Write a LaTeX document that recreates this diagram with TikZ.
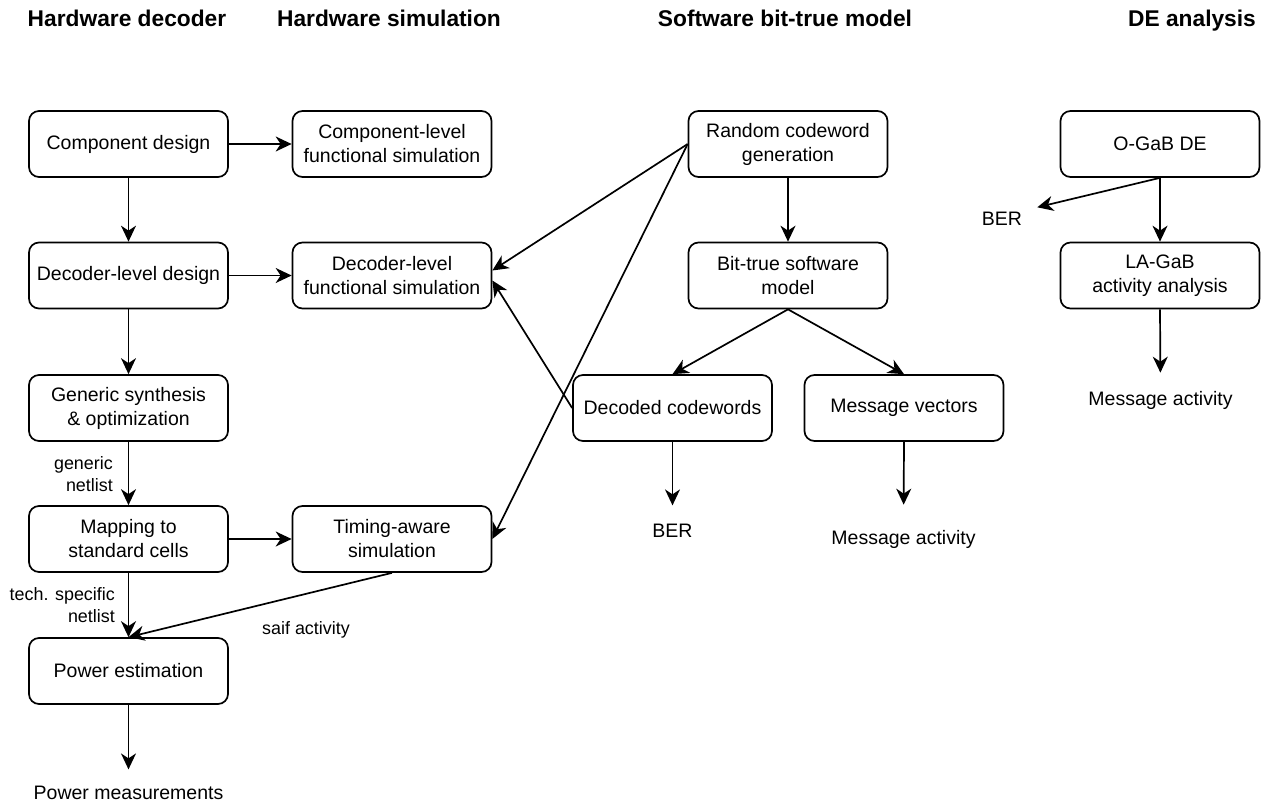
\documentclass[tikz,border=0pt]{standalone}
\usepackage{fontspec}
\setmainfont{Liberation Sans}
\usetikzlibrary{arrows.meta,calc}
\begin{document}
\begin{tikzpicture}[x=1pt,y=-1pt,
  box/.style={draw, line width=1.7pt, rounded corners=10pt, minimum width=199pt,
    minimum height=66pt, align=center, inner sep=2pt, font=\fontsize{19.5}{24}\selectfont},
  txt/.style={inner sep=0pt, align=center, anchor=base, font=\fontsize{19.5}{24}\selectfont},
  lbl/.style={inner sep=0pt, align=right, font=\fontsize{17.9}{22}\selectfont},
  head/.style={inner sep=0pt, anchor=base, font=\fontsize{22.75}{27}\selectfont\bfseries},
  arr/.style={draw, line width=1.7pt, -{Stealth[length=16pt,width=15pt,inset=5pt]}}]
\useasboundingbox (0,0) rectangle (1261,803);

% column headings
\node[head] (h1) at (127,26) {Hardware decoder};
\node[head] (h2) at (389,26) {Hardware simulation};
\node[head] (h3) at (785,26) {Software bit-true model};
\node[head] (h4) at (1192,26) {DE analysis};

% hardware decoder flow
\node[box] (comp) at (128.5,144) {Component design};
\node[box] (dec) at (128.5,275.5) {Decoder-level design};
\node[box] (gen) at (128.5,408) {Generic synthesis\\\& optimization};
\node[box] (map) at (128.5,539) {Mapping to\\standard cells};
\node[box] (power) at (128.5,671) {Power estimation};
\node[txt] (powmeas) at (128.5,799) {Power measurements};

% hardware simulation
\node[box] (complev) at (392,144) {Component-level\\functional simulation};
\node[box] (declev) at (392,275.5) {Decoder-level\\functional simulation};
\node[box] (timing) at (392,539) {Timing-aware\\simulation};

% software model
\node[box] (rand) at (788,144) {Random codeword\\generation};
\node[box] (bit) at (788,275.5) {Bit-true software\\model};
\node[box] (decoded) at (672.5,408) {Decoded codewords};
\node[box] (msgvec) at (904,408) {Message vectors};
\node[txt] (ber1) at (672.5,537) {BER};
\node[txt] (msgact1) at (903.5,544) {Message activity};

% density evolution
\node[box] (ogab) at (1160,144) {O-GaB DE};
\node[box] (lagab) at (1160,275.5) {LA-GaB\\activity analysis};
\node[txt] (ber2) at (1002,225) {BER};
\node[txt] (msgact2) at (1160.5,405) {Message activity};

% edge labels
\node[lbl, anchor=east] (gnet) at (113,474) {generic\\netlist};
\node[lbl, anchor=east] (tnet) at (115,605) {tech. specific\\netlist};
\node[lbl] (saif) at (306,630) {saif activity};

% connectors
\draw[arr] (comp) -- (complev);
\draw[arr] (comp) -- (dec);
\draw[arr] (dec) -- (declev);
\draw[arr] (dec) -- (gen);
\draw[arr] (gen) -- (map);
\draw[arr] (map) -- (timing);
\draw[arr] (map) -- (power);
\draw[arr] (timing.south) -- (power.north);
\draw[arr,shorten >=16pt] (power.south) -- (powmeas.north);

\draw[arr] (rand.west) -- ([yshift=5pt]declev.east);
\draw[arr] (rand.west) -- (timing.east);
\draw[arr] (decoded.west) -- ([yshift=-5pt]declev.east);
\draw[arr] (rand) -- (bit);
\draw[arr] (bit.south) -- (decoded.north);
\draw[arr] (bit.south) -- (msgvec.north);
\draw[arr,shorten >=18pt] (decoded.south) -- (ber1.north);
\draw[arr,shorten >=25pt] (msgvec.south) -- (msgact1.north);

\draw[arr] (ogab) -- (lagab);
\draw[arr] (ogab.south) -- ($(ber2.east)+(15,-11)$);
\draw[arr,shorten >=18pt] (lagab.south) -- (msgact2.north);
\end{tikzpicture}
\end{document}
